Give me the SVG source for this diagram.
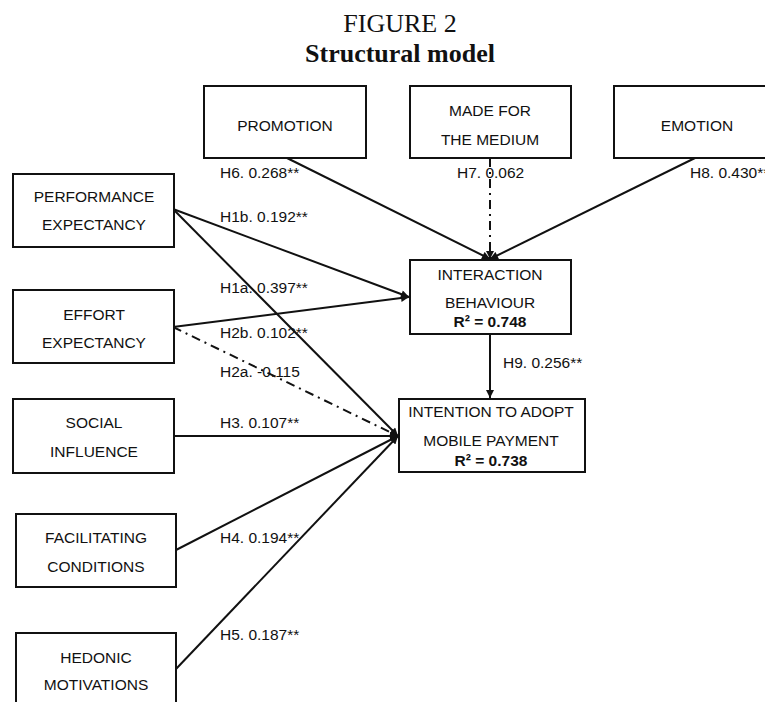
<svg xmlns="http://www.w3.org/2000/svg" width="765" height="702" viewBox="0 0 765 702">
<style>
.box{fill:#fff;stroke:#111;stroke-width:2}
.t{font-family:"Liberation Sans",Arial,sans-serif;font-size:15.5px;fill:#111;text-anchor:middle}
.b{font-weight:bold}
.lbl{font-family:"Liberation Sans",Arial,sans-serif;font-size:15.5px;fill:#111}
.ln{stroke:#111;stroke-width:2;fill:none}
.dd{stroke-dasharray:9,5,2,5}
.title{font-family:"Liberation Serif","Times New Roman",serif;font-size:26px;fill:#111;text-anchor:middle}
</style>
<defs>
<marker id="ah" viewBox="0 0 10 10" refX="10" refY="5" markerWidth="9" markerHeight="8" markerUnits="userSpaceOnUse" orient="auto">
<path d="M0,0 L10,5 L0,10 z" fill="#111"/>
</marker>
</defs>
<rect width="765" height="702" fill="#fff"/>
<text class="title" x="400" y="32">FIGURE 2</text>
<text class="title b" x="400" y="62">Structural model</text>

<g id="connectors">
<line class="ln" x1="287" y1="158" x2="490" y2="259" marker-end="url(#ah)"/>
<line class="ln dd" x1="490" y1="158" x2="490" y2="259" marker-end="url(#ah)"/>
<line class="ln" x1="695" y1="158" x2="490" y2="259" marker-end="url(#ah)"/>
<line class="ln" x1="173" y1="209" x2="409" y2="297" marker-end="url(#ah)"/>
<line class="ln" x1="173" y1="327" x2="409" y2="297" marker-end="url(#ah)"/>
<line class="ln" x1="173" y1="209" x2="398" y2="436" marker-end="url(#ah)"/>
<line class="ln dd" x1="173" y1="327" x2="398" y2="436" marker-end="url(#ah)"/>
<line class="ln" x1="173" y1="436" x2="398" y2="436" marker-end="url(#ah)"/>
<line class="ln" x1="176" y1="550" x2="398" y2="436" marker-end="url(#ah)"/>
<line class="ln" x1="176" y1="669" x2="398" y2="436" marker-end="url(#ah)"/>
<line class="ln" x1="490" y1="334" x2="490" y2="398" marker-end="url(#ah)"/>
</g>

<g id="labels">
<text class="lbl" x="220" y="178">H6. 0.268**</text>
<text class="lbl" x="457" y="178">H7. 0.062</text>
<text class="lbl" x="690" y="178">H8. 0.430**</text>
<text class="lbl" x="220" y="222">H1b. 0.192**</text>
<text class="lbl" x="220" y="293">H1a. 0.397**</text>
<text class="lbl" x="220" y="338">H2b. 0.102**</text>
<text class="lbl" x="220" y="377">H2a. -0.115</text>
<text class="lbl" x="220" y="428">H3. 0.107**</text>
<text class="lbl" x="220" y="543">H4. 0.194**</text>
<text class="lbl" x="220" y="640">H5. 0.187**</text>
<text class="lbl" x="503" y="368">H9. 0.256**</text>
</g>

<g id="promotion">
<rect class="box" x="204" y="86" width="162" height="72"/>
<text class="t" x="285" y="131">PROMOTION</text>
</g>
<g id="made-for-the-medium">
<rect class="box" x="410" y="86" width="161" height="72"/>
<text class="t" x="490" y="116">MADE FOR</text>
<text class="t" x="490" y="145">THE MEDIUM</text>
</g>
<g id="emotion">
<rect class="box" x="614" y="86" width="166" height="72"/>
<text class="t" x="697" y="131">EMOTION</text>
</g>
<g id="performance-expectancy">
<rect class="box" x="13" y="174" width="161" height="73"/>
<text class="t" x="94" y="202">PERFORMANCE</text>
<text class="t" x="94" y="230">EXPECTANCY</text>
</g>
<g id="effort-expectancy">
<rect class="box" x="13" y="290" width="161" height="73"/>
<text class="t" x="94" y="320">EFFORT</text>
<text class="t" x="94" y="348">EXPECTANCY</text>
</g>
<g id="social-influence">
<rect class="box" x="13" y="399" width="161" height="74"/>
<text class="t" x="94" y="428">SOCIAL</text>
<text class="t" x="94" y="457">INFLUENCE</text>
</g>
<g id="facilitating-conditions">
<rect class="box" x="16" y="514" width="160" height="73"/>
<text class="t" x="96" y="543">FACILITATING</text>
<text class="t" x="96" y="572">CONDITIONS</text>
</g>
<g id="hedonic-motivations">
<rect class="box" x="16" y="633" width="160" height="90"/>
<text class="t" x="96" y="663">HEDONIC</text>
<text class="t" x="96" y="690">MOTIVATIONS</text>
</g>
<g id="interaction-behaviour">
<rect class="box" x="410" y="260" width="161" height="74"/>
<text class="t" x="490" y="280">INTERACTION</text>
<text class="t" x="490" y="308">BEHAVIOUR</text>
<text class="t b" x="490" y="327">R² = 0.748</text>
</g>
<g id="intention-to-adopt">
<rect class="box" x="399" y="399" width="186" height="73"/>
<text class="t" x="491" y="417">INTENTION TO ADOPT</text>
<text class="t" x="491" y="446">MOBILE PAYMENT</text>
<text class="t b" x="491" y="466">R² = 0.738</text>
</g>
</svg>
